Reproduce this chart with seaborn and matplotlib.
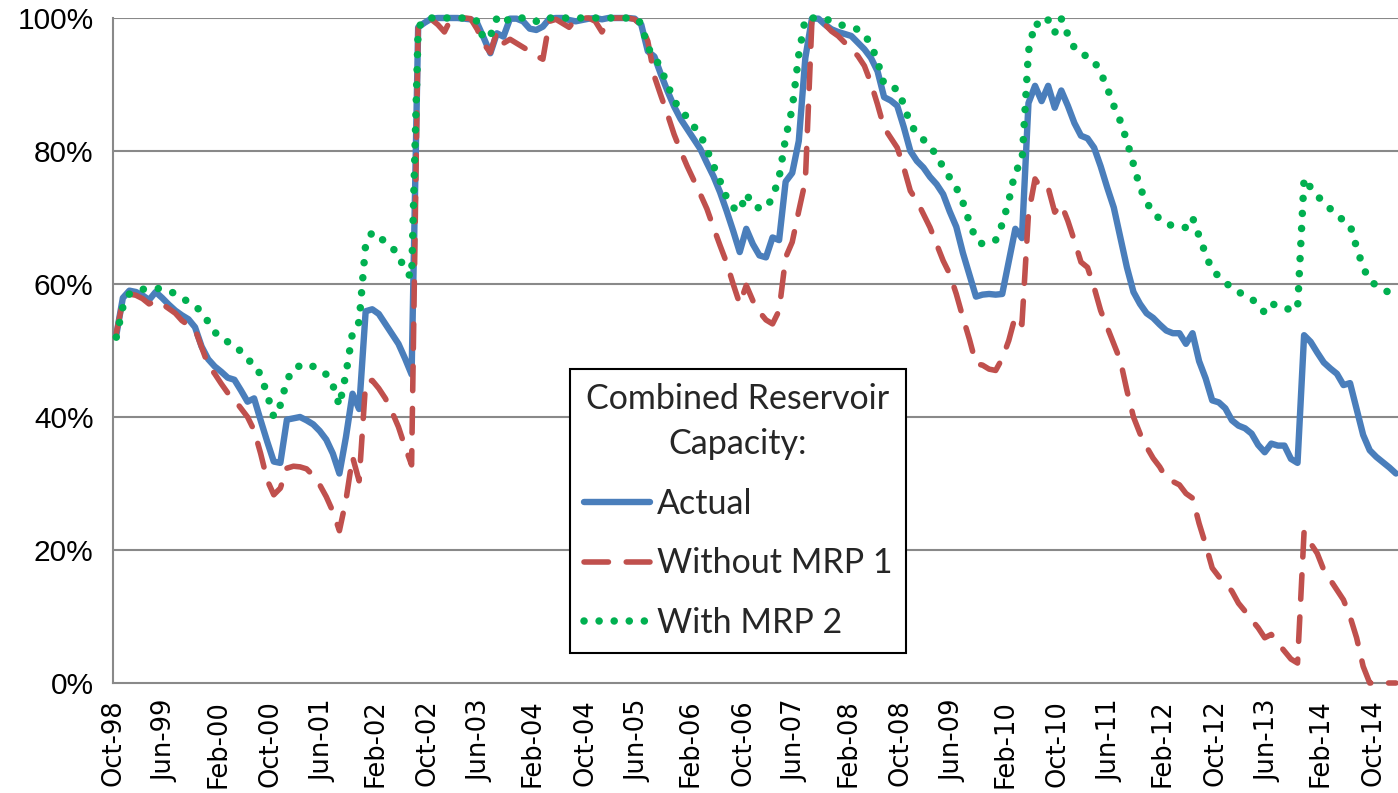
import numpy as np
import pandas as pd
import matplotlib
matplotlib.use("Agg")
import matplotlib.pyplot as plt
import seaborn as sns
from matplotlib.ticker import FixedLocator, PercentFormatter

# ---------------- data (monthly, Oct-98 onward, % of capacity) ----------------
tick_labels = ["Oct-98", "Jun-99", "Feb-00", "Oct-00", "Jun-01", "Feb-02", "Oct-02",
               "Jun-03", "Feb-04", "Oct-04", "Jun-05", "Feb-06", "Oct-06", "Jun-07",
               "Feb-08", "Oct-08", "Jun-09", "Feb-10", "Oct-10", "Jun-11", "Feb-12",
               "Oct-12", "Jun-13", "Feb-14", "Oct-14"]

actual = [
    52.3, 57.9, 59.0, 58.8, 58.3, 57.6, 58.8, 57.9, 56.9, 56.0,
    55.3, 54.7, 53.5, 50.6, 48.7, 47.6, 46.8, 45.9, 45.6, 44.0,
    42.3, 42.8, 39.5, 36.3, 33.3, 33.1, 39.6, 39.8, 40.0, 39.5,
    38.9, 37.9, 36.6, 34.5, 31.5, 37.0, 43.5, 41.2, 55.9, 56.2,
    55.5, 54.0, 52.5, 51.0, 48.8, 46.4, 98.6, 99.3, 99.9, 100.0,
    100.0, 100.0, 100.0, 99.9, 99.8, 99.2, 97.0, 94.7, 97.7, 97.2,
    99.9, 99.9, 99.5, 98.4, 98.2, 98.7, 99.9, 100.0, 100.0, 99.7,
    99.5, 99.7, 99.9, 100.0, 99.8, 100.0, 100.0, 100.0, 100.0, 99.9,
    99.0, 95.0, 94.2, 91.5, 89.0, 86.7, 84.8, 83.3, 81.8, 80.3,
    78.2, 76.2, 73.8, 71.0, 68.0, 64.8, 68.3, 66.0, 64.3, 64.0,
    67.0, 66.6, 75.4, 76.7, 81.5, 94.0, 99.9, 99.9, 99.0, 98.3,
    97.9, 97.6, 97.3, 96.3, 95.3, 94.0, 92.0, 88.1, 87.6, 86.8,
    83.6, 80.0, 78.5, 77.5, 76.1, 75.0, 73.5, 70.9, 68.6, 64.7,
    61.4, 58.1, 58.4, 58.5, 58.4, 58.5, 63.4, 68.3, 66.9, 87.2,
    89.8, 87.5, 89.8, 86.5, 89.1, 86.8, 84.2, 82.3, 81.9, 80.5,
    77.7, 74.5, 71.5, 67.0, 62.5, 58.8, 57.0, 55.6, 54.9, 53.9,
    53.0, 52.6, 52.6, 51.0, 52.6, 48.4, 45.8, 42.5, 42.2, 41.3,
    39.5, 38.7, 38.3, 37.5, 35.8, 34.7, 36.0, 35.7, 35.7, 33.7,
    33.1, 52.3, 51.3, 49.7, 48.2, 47.3, 46.5, 44.8, 45.1, 41.2,
    37.3, 35.0, 34.0, 33.2, 32.4, 31.5,
]

without_mrp1 = [
    52.6, 57.5, 58.5, 58.3, 57.8, 57.0, 57.5, 57.0, 56.3, 55.6,
    54.5, 53.8, 53.2, 50.5, 47.8, 46.5, 45.0, 43.6, 42.6, 41.3,
    40.0, 38.0, 34.5, 30.5, 28.3, 29.3, 32.3, 32.6, 32.5, 32.2,
    31.2, 29.8, 28.0, 25.8, 22.9, 27.5, 34.0, 30.4, 45.2, 45.5,
    44.3, 42.8, 40.8, 38.5, 35.5, 32.8, 98.5, 99.5, 99.8, 99.0,
    97.9, 99.9, 100.0, 100.0, 99.9, 98.3, 96.1, 94.8, 97.9, 96.2,
    96.8, 96.2, 95.6, 95.0, 94.3, 93.8, 99.5, 99.8, 99.2, 98.6,
    99.8, 100.0, 100.0, 99.5, 97.9, 99.6, 100.0, 100.0, 100.0, 99.8,
    98.9, 96.5, 91.2, 88.3, 85.5, 82.5, 80.0, 77.7, 75.6, 73.5,
    71.3, 68.5, 65.8, 63.2, 60.0, 57.0, 59.8, 57.5, 55.8, 54.6,
    54.0, 56.0, 64.0, 66.3, 71.0, 75.5, 99.5, 99.8, 99.0, 98.0,
    97.3, 96.3, 95.3, 94.3, 92.8, 90.2, 87.0, 83.5, 82.0, 80.5,
    77.5, 74.0, 72.5, 70.5, 68.5, 66.0, 63.5, 61.5, 58.5, 55.0,
    51.7, 48.0, 47.8, 47.2, 47.0, 48.8, 51.5, 55.2, 53.9, 70.5,
    75.8, 74.3, 74.5, 70.8, 72.0, 69.5, 66.5, 63.3, 62.5, 59.5,
    56.0, 53.5, 51.0, 48.5, 44.0, 40.0, 37.5, 35.5, 33.8, 32.5,
    30.8, 30.3, 29.8, 28.5, 27.8, 24.0, 20.8, 17.3, 16.0, 15.0,
    13.8, 12.0, 10.8, 9.5, 8.3, 6.8, 7.3, 6.0, 4.8, 3.6,
    3.0, 22.8, 21.0, 19.5, 17.0, 15.5, 14.0, 12.5, 10.0, 6.8,
    2.5, 0.0, 0.0, 0.0, 0.0, 0.0,
]

with_mrp2 = [
    52.0, 56.5, 58.5, 59.0, 59.2, 59.3, 59.4, 59.2, 59.0, 58.5,
    57.9, 57.3, 56.7, 55.8, 54.3, 52.8, 51.7, 51.3, 50.9, 49.8,
    48.6, 48.0, 46.3, 43.4, 40.0, 41.8, 45.5, 47.3, 47.7, 48.0,
    47.6, 47.1, 46.4, 44.8, 41.7, 46.5, 52.7, 54.3, 66.0, 67.8,
    67.0, 66.4, 65.5, 64.4, 62.0, 61.0, 98.5, 99.9, 100.0, 100.0,
    100.0, 100.0, 100.0, 100.0, 100.0, 99.5, 96.8, 97.3, 100.0, 99.2,
    100.0, 100.0, 100.0, 100.0, 99.5, 100.0, 100.0, 100.0, 100.0, 100.0,
    100.0, 100.0, 100.0, 100.0, 100.0, 100.0, 100.0, 100.0, 100.0, 100.0,
    99.2, 95.5, 94.3, 92.3, 90.0, 87.5, 86.3, 85.0, 83.7, 82.5,
    80.2, 77.8, 75.5, 73.0, 71.5, 70.9, 73.6, 71.8, 71.4, 71.4,
    73.0, 76.0, 82.0, 86.4, 94.5, 100.0, 100.0, 100.0, 99.9, 99.5,
    99.1, 98.8, 98.5, 98.3, 97.5, 96.0, 93.5, 90.0, 89.6, 89.3,
    87.0, 84.0, 82.7, 81.7, 80.5, 79.5, 77.5, 76.0, 74.5, 72.3,
    69.3, 66.7, 66.0, 66.3, 66.6, 69.0, 72.5, 77.0, 78.2, 95.0,
    99.3, 98.6, 99.7, 97.8, 99.9, 97.5, 95.5, 94.5, 94.3, 93.5,
    91.8, 89.5, 86.8, 84.5, 81.5, 78.0, 74.5, 72.3, 70.7, 69.8,
    69.0, 68.8, 68.5, 68.5, 70.0, 67.2, 64.5, 62.0, 61.2, 60.3,
    59.3, 58.8, 58.3, 57.8, 56.8, 55.7, 57.0, 56.8, 56.3, 56.2,
    56.2, 75.9, 74.5, 73.3, 72.2, 71.3, 70.5, 69.5, 68.9, 65.5,
    62.5, 60.5, 59.8, 59.2, 58.7, 58.2,
]

series_names = ["Actual", "Without MRP 1", "With MRP 2"]
colors = ["#4A7EBB", "#C0504D", "#00B050"]

# months since Oct-98 (values sit mid-month)
months = np.arange(len(actual)) + 0.5

# ---------------- figure ----------------
sns.set_theme(style="white")
plt.rcParams["font.family"] = ["DejaVu Sans"]

W, H = 1398, 793
fig = plt.figure(figsize=(W / 100, H / 100), dpi=100)
ax_left, ax_right, ax_top, ax_bottom = 113, 1398, 18, 683
ax = fig.add_axes([ax_left / W, 1 - ax_bottom / H, (ax_right - ax_left) / W,
                   (ax_bottom - ax_top) / H])

grid_color = "#898989"
for v in range(20, 101, 20):
    ax.axhline(v, color=grid_color, lw=1.5, zorder=0)

sns.lineplot(x=months, y=actual, ax=ax, color=colors[0], lw=4.6,
             solid_capstyle="round", solid_joinstyle="round",
             label=series_names[0], clip_on=False, zorder=3)
sns.lineplot(x=months, y=without_mrp1, ax=ax, color=colors[1], lw=4.0,
             linestyle=(0, (4.4, 3.2)), dash_capstyle="round",
             label=series_names[1], clip_on=False, zorder=4)
sns.lineplot(x=months, y=with_mrp2, ax=ax, color=colors[2], lw=5.4,
             linestyle=(0, (0.01, 2.0)), dash_capstyle="round",
             label=series_names[2], clip_on=False, zorder=5)

ax.set_xlim(0, (ax_right - ax_left) / 6.5625)
ax.set_ylim(0, 100)

ax.xaxis.set_major_locator(FixedLocator(np.arange(len(tick_labels)) * 8))
ax.set_xticklabels(tick_labels, rotation=90, fontsize=18.5, family="DejaVu Sans")
ax.yaxis.set_major_locator(FixedLocator([0, 20, 40, 60, 80, 100]))
ax.yaxis.set_major_formatter(PercentFormatter(100, decimals=0))
for lab in ax.get_yticklabels():
    lab.set_fontfamily("Liberation Sans")
    lab.set_fontsize(21.5)

ax.tick_params(axis="both", which="major", direction="out", length=8, width=1.5,
               color=grid_color, labelcolor="black")
ax.tick_params(axis="x", pad=4)
ax.tick_params(axis="y", pad=6)
ax.set_xlabel("")
ax.set_ylabel("")

for side in ["top", "right"]:
    ax.spines[side].set_visible(False)
for side in ["left", "bottom"]:
    ax.spines[side].set_color(grid_color)
    ax.spines[side].set_linewidth(1.5)
    ax.spines[side].set_zorder(1)

leg = ax.legend(title="Combined Reservoir\nCapacity:", loc="center",
                bbox_to_anchor=(738 / W, 1 - 511 / H), bbox_transform=fig.transFigure,
                frameon=True, fancybox=False, edgecolor="black", framealpha=1,
                prop={"family": "Lato", "size": 24.5},
                title_fontproperties={"family": "Lato", "size": 24.5},
                handlelength=1.95, handletextpad=0.2, labelspacing=0.82,
                borderpad=0.4, borderaxespad=0)
leg.get_frame().set_linewidth(1.5)
title = leg.get_title()
title.set_multialignment("center")
title.set_linespacing(1.5)
leg.set_zorder(10)

fig.savefig("out.png", dpi=100)
